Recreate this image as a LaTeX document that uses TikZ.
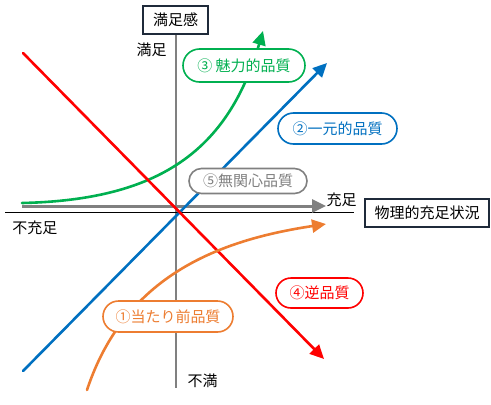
\documentclass[tikz,border=0pt]{standalone}
\usepackage{fontspec}
\setmainfont{Noto Sans CJK JP}
\usetikzlibrary{arrows.meta,shapes.misc}
\definecolor{cgreen}{HTML}{00B050}
\definecolor{cblue}{HTML}{0070C0}
\definecolor{cred}{HTML}{FF0000}
\definecolor{corange}{HTML}{ED7D31}
\definecolor{cgray}{HTML}{808080}
\definecolor{cnavy}{HTML}{1F2A3A}
\begin{document}
\begin{tikzpicture}[x=1pt,y=-1pt,
  font=\fontsize{15}{17}\selectfont,
  pill/.style={draw, rounded rectangle, line width=1.6pt, fill=white, inner sep=0pt, minimum height=31pt},
  axisbox/.style={draw=cnavy, line width=1.8pt, fill=white, inner sep=0pt, minimum height=28pt},
  tiparrow/.style={-{Triangle[length=14pt,width=13pt]}},
  curve/.style={line width=2.6pt, line cap=round},
  plain/.style={inner sep=0pt}]
\useasboundingbox (0,0) rectangle (491,405);
% coordinates
\coordinate (vbot) at (176,388);
\coordinate (hl) at (22,206);
\coordinate (hr) at (326,206);
\coordinate (bl) at (5,212);
\coordinate (br) at (354,212);
\coordinate (gs) at (22,203);
\coordinate (ge) at (263,31);
\coordinate (bs) at (23,371);
\coordinate (be) at (327,63);
\coordinate (rs) at (23,53);
\coordinate (re) at (324,359);
\coordinate (os) at (87,390);
\coordinate (oe) at (326,224);
% axis boxes
\node[axisbox, minimum width=65pt] (ya) at (175.5,20) {満足感};
\node[axisbox, minimum width=124pt] (xa) at (427,213) {物理的充足状況};
% axes
\draw[cgray, line width=1.8pt] (ya.south -| vbot) -- (vbot);
\draw[black, line width=0.9pt] (bl) -- (br);
\draw[cgray, line width=3pt, tiparrow] (hl) -- (hr);
% curves
\draw[cgreen, curve, tiparrow] (gs) .. controls (160,200) and (228,150) .. (ge);
\draw[cblue, curve, tiparrow] (bs) -- (be);
\draw[cred, curve, tiparrow] (rs) -- (re);
\draw[corange, curve, tiparrow] (os) .. controls (125,275) and (220,240) .. (oe);
% axis texts
\node[plain] (t1) at (151.5,49.5) {満足};
\node[plain] (t2) at (341.5,200) {充足};
\node[plain] (t3) at (35,227.5) {不充足};
\node[plain] (t4) at (202.5,380.5) {不満};
% quality labels
\node[pill, draw=cgreen, text=cgreen, minimum width=122pt, minimum height=33pt] (q3) at (244,65.5) {③ 魅力的品質};
\node[pill, draw=cblue, text=cblue, minimum width=119pt] (q2) at (337.5,128.5) {②一元的品質};
\node[pill, draw=cgray, text=cgray, minimum width=118pt, minimum height=25pt] (q5) at (248,181) {⑤無関心品質};
\node[pill, draw=cred, text=cred, minimum width=87pt, minimum height=30pt] (q4) at (319.5,293) {④逆品質};
\node[pill, draw=corange, text=corange, minimum width=130pt] (q1) at (168,316.5) {①当たり前品質};
\end{tikzpicture}
\end{document}
